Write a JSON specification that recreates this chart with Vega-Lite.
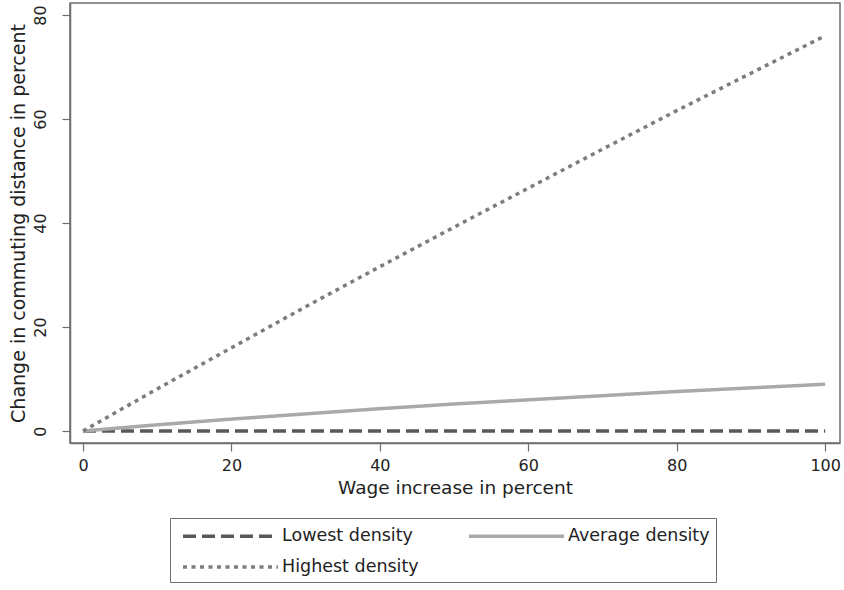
{
  "$schema": "https://vega.github.io/schema/vega-lite/v6.json",
  "autosize": {"type": "none"},
  "padding": {"left": 70, "top": 3, "right": 4, "bottom": 147},
  "width": 770,
  "height": 440,
  "background": "white",
  "config": {
    "font": "DejaVu Sans",
    "view": {"stroke": "#6e6e6e", "strokeWidth": 1.5},
    "axis": {"grid": false, "domainColor": "#6e6e6e", "tickColor": "#6e6e6e", "domainWidth": 1.5, "tickWidth": 1.2, "labelColor": "#222", "titleColor": "#222", "labelFont": "DejaVu Sans", "titleFont": "DejaVu Sans", "labelFontSize": 16, "titleFontWeight": "normal", "tickSize": 8}
  },
  "data": {"values": [
    {"wage": 0, "change": 0, "series": "Lowest density"},
    {"wage": 10, "change": 0, "series": "Lowest density"},
    {"wage": 20, "change": 0, "series": "Lowest density"},
    {"wage": 30, "change": 0, "series": "Lowest density"},
    {"wage": 40, "change": 0, "series": "Lowest density"},
    {"wage": 50, "change": 0, "series": "Lowest density"},
    {"wage": 60, "change": 0, "series": "Lowest density"},
    {"wage": 70, "change": 0, "series": "Lowest density"},
    {"wage": 80, "change": 0, "series": "Lowest density"},
    {"wage": 90, "change": 0, "series": "Lowest density"},
    {"wage": 100, "change": 0, "series": "Lowest density"},
    {"wage": 0, "change": 0, "series": "Average density"},
    {"wage": 10, "change": 1.2, "series": "Average density"},
    {"wage": 20, "change": 2.3, "series": "Average density"},
    {"wage": 30, "change": 3.3, "series": "Average density"},
    {"wage": 40, "change": 4.3, "series": "Average density"},
    {"wage": 50, "change": 5.2, "series": "Average density"},
    {"wage": 60, "change": 6.0, "series": "Average density"},
    {"wage": 70, "change": 6.8, "series": "Average density"},
    {"wage": 80, "change": 7.6, "series": "Average density"},
    {"wage": 90, "change": 8.3, "series": "Average density"},
    {"wage": 100, "change": 9.0, "series": "Average density"},
    {"wage": 0, "change": 0, "series": "Highest density"},
    {"wage": 10, "change": 8.1, "series": "Highest density"},
    {"wage": 20, "change": 16.0, "series": "Highest density"},
    {"wage": 30, "change": 23.9, "series": "Highest density"},
    {"wage": 40, "change": 31.6, "series": "Highest density"},
    {"wage": 50, "change": 39.2, "series": "Highest density"},
    {"wage": 60, "change": 46.7, "series": "Highest density"},
    {"wage": 70, "change": 54.2, "series": "Highest density"},
    {"wage": 80, "change": 61.6, "series": "Highest density"},
    {"wage": 90, "change": 68.8, "series": "Highest density"},
    {"wage": 100, "change": 76.0, "series": "Highest density"}
  ]},
  "mark": {"type": "line", "strokeWidth": 3.5, "strokeCap": "butt", "clip": true},
  "encoding": {
    "x": {"field": "wage", "type": "quantitative", "scale": {"domain": [-1.75, 102], "nice": false, "zero": false},
      "axis": {"values": [0, 20, 40, 60, 80, 100], "title": "Wage increase in percent", "titleFontSize": 18.5, "labelPadding": 6, "titlePadding": 5}},
    "y": {"field": "change", "type": "quantitative", "scale": {"domain": [-2.3, 82.3], "nice": false, "zero": false},
      "axis": {"values": [0, 20, 40, 60, 80], "title": "Change in commuting distance in percent", "titleFontSize": 19, "labelAngle": -90, "labelAlign": "center", "labelBaseline": "bottom", "labelPadding": 14, "titlePadding": 4}},
    "color": {"field": "series", "type": "nominal",
      "scale": {"domain": ["Lowest density", "Average density", "Highest density"], "range": ["#595959", "#a9a9a9", "#7d7d7d"]},
      "legend": {"title": null, "orient": "none", "legendX": 100, "legendY": 515, "columns": 2, "direction": "horizontal",
        "symbolType": "M-0.5,0H9", "symbolSize": 400, "symbolStrokeWidth": 3.5, "labelFontSize": 17.5, "labelFont": "DejaVu Sans", "labelColor": "#222",
        "strokeColor": "#6e6e6e", "fillColor": "white", "padding": 6, "rowPadding": 10, "columnPadding": 43, "labelOffset": 82, "labelLimit": 300}},
    "strokeDash": {"field": "series", "type": "nominal",
      "scale": {"domain": ["Lowest density", "Average density", "Highest density"], "range": [[13, 6], [1, 0], [4, 4.5]]},
      "legend": null}
  }
}
